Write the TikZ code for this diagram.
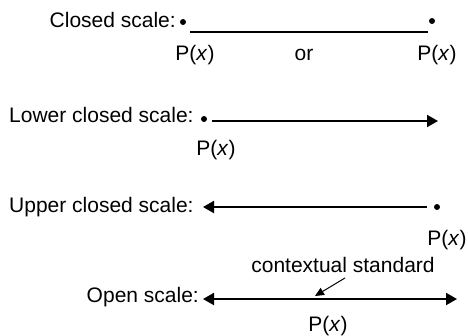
\documentclass[tikz,border=0pt]{standalone}
\usepackage{fontspec}
\setmainfont{Liberation Sans}
\usetikzlibrary{arrows.meta}
\begin{document}
\begin{tikzpicture}[x=1pt,y=-1pt,
  lbl/.style={font=\fontsize{21}{25}\selectfont, inner sep=0pt},
  pt/.style={circle, fill=black, inner sep=0pt, minimum size=6pt},
  scale line/.style={line width=1.9pt, black},
  tip/.style={-{Triangle[length=11pt,width=12pt]}},
  small tip/.style={line width=1pt, -{Triangle[length=9pt,width=8pt]}}]
\useasboundingbox (0,0) rectangle (468,335);
% Closed scale
\node[lbl, anchor=base east] (t1) at (176,27) {Closed scale:};
\node[pt] (d1a) at (183,22) {};
\node[pt] (d1b) at (432,21) {};
\coordinate (l1a) at (190,32);
\coordinate (l1b) at (428,32);
\draw[scale line] (l1a) -- (l1b);
\node[lbl, anchor=base] (p1a) at (195,60) {P(\textit{x})};
\node[lbl, anchor=base] (or) at (304,60) {or};
\node[lbl, anchor=base] (p1b) at (437,60) {P(\textit{x})};
% Lower closed scale
\node[lbl, anchor=base west] (t2) at (9,122) {Lower closed scale:};
\node[pt] (d2) at (204,119) {};
\coordinate (l2a) at (212,121);
\coordinate (l2b) at (438,121);
\draw[scale line, tip] (l2a) -- (l2b);
\node[lbl, anchor=base] (p2) at (216,155) {P(\textit{x})};
% Upper closed scale
\node[lbl, anchor=base west] (t3) at (9,212) {Upper closed scale:};
\node[pt] (d3) at (437,207) {};
\coordinate (l3a) at (427,207);
\coordinate (l3b) at (203,207);
\draw[scale line, tip] (l3a) -- (l3b);
\node[lbl, anchor=base] (p3) at (447,245) {P(\textit{x})};
% Open scale
\node[lbl, anchor=base east] (t4) at (199,302) {Open scale:};
\coordinate (l4a) at (203,299);
\coordinate (l4b) at (457,299);
\draw[scale line, {Triangle[length=11pt,width=12pt]}-{Triangle[length=11pt,width=12pt]}] (l4a) -- (l4b);
\node[lbl, anchor=base] (cs) at (343,272) {contextual standard};
\coordinate (csa) at (345,278);
\coordinate (csb) at (315,296);
\draw[small tip] (csa) -- (csb);
\node[lbl, anchor=base] (p4) at (328,331) {P(\textit{x})};
\end{tikzpicture}
\end{document}
